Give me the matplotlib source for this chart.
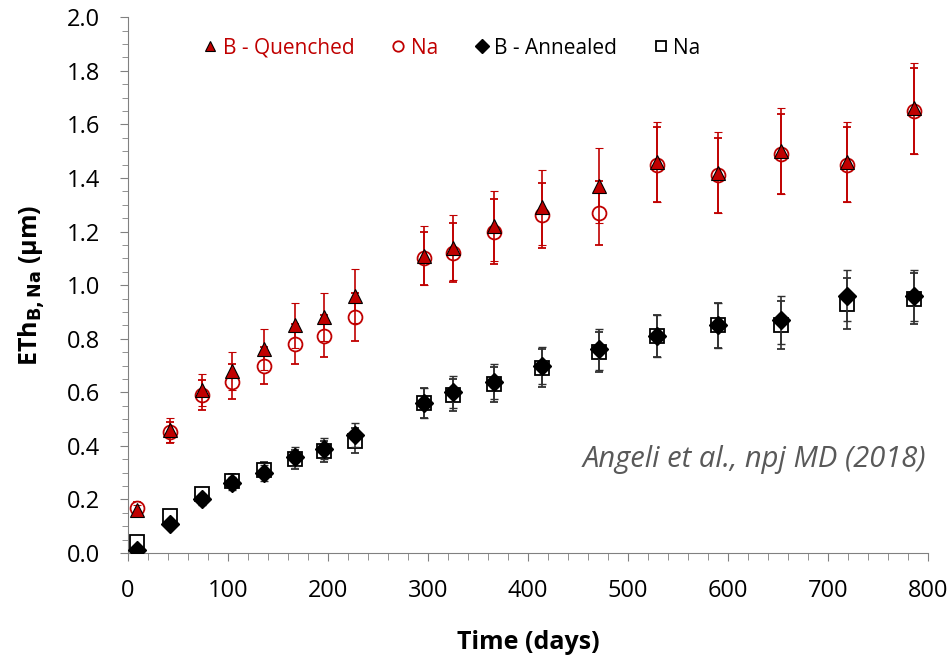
import numpy as np
import matplotlib.pyplot as plt

plt.rcParams['font.family'] = ['Open Sans', 'DejaVu Sans']

days = [9, 42, 74, 104, 136, 167, 196, 227, 296, 325, 366, 414, 471, 529, 590, 653, 719, 786]

# quenched glass
bq = [0.16, 0.46, 0.61, 0.68, 0.76, 0.85, 0.88, 0.96, 1.11, 1.14, 1.22, 1.29, 1.37, 1.46, 1.42, 1.50, 1.46, 1.66]
bq_err = [0.02, 0.045, 0.06, 0.07, 0.075, 0.085, 0.09, 0.10, 0.11, 0.12, 0.13, 0.14, 0.14, 0.15, 0.15, 0.16, 0.15, 0.17]
naq = [0.17, 0.45, 0.59, 0.64, 0.70, 0.78, 0.81, 0.88, 1.10, 1.12, 1.20, 1.26, 1.27, 1.45, 1.41, 1.49, 1.45, 1.65]
naq_err = [0.02, 0.04, 0.055, 0.065, 0.07, 0.075, 0.08, 0.09, 0.10, 0.11, 0.12, 0.12, 0.12, 0.14, 0.14, 0.15, 0.14, 0.16]

# annealed glass
ba = [0.01, 0.11, 0.20, 0.26, 0.30, 0.36, 0.39, 0.44, 0.56, 0.60, 0.64, 0.70, 0.76, 0.81, 0.85, 0.87, 0.96, 0.96]
ba_err = [0.01, 0.015, 0.02, 0.025, 0.03, 0.035, 0.04, 0.045, 0.055, 0.06, 0.065, 0.07, 0.075, 0.08, 0.085, 0.09, 0.095, 0.095]
naa = [0.04, 0.14, 0.22, 0.27, 0.31, 0.35, 0.38, 0.42, 0.56, 0.59, 0.63, 0.69, 0.75, 0.81, 0.85, 0.85, 0.93, 0.95]
naa_err = [0.01, 0.015, 0.02, 0.025, 0.03, 0.035, 0.04, 0.045, 0.055, 0.06, 0.065, 0.07, 0.075, 0.08, 0.085, 0.09, 0.095, 0.095]

red = '#c00000'
fig = plt.figure(figsize=(9.52, 6.6), dpi=100)
ax = fig.add_axes([0.134, 0.162, 0.841, 0.812])

ax.errorbar(days, naq, yerr=naq_err, fmt='o', ms=10, mfc='white', mec=red, mew=1.3,
            ecolor=red, elinewidth=1.2, capsize=3, label='Na', zorder=3)
ax.errorbar(days, bq, yerr=bq_err, fmt='^', ms=10, mfc=red, mec='black', mew=0.8,
            ecolor=red, elinewidth=1.2, capsize=3, label='B - Quenched', zorder=4)
ax.errorbar(days, naa, yerr=naa_err, fmt='s', ms=10, mfc='white', mec='black', mew=1.3,
            ecolor='#303030', elinewidth=1.2, capsize=3, label='Na', zorder=3)
ax.errorbar(days, ba, yerr=ba_err, fmt='D', ms=9, mfc='black', mec='black',
            ecolor='#303030', elinewidth=1.2, capsize=3, label='B - Annealed', zorder=4)

ax.set_xlim(0, 800)
ax.set_ylim(0, 2.0)
ax.set_xticks(np.arange(0, 801, 100))
ax.set_xticks(np.arange(0, 801, 20), minor=True)
ax.set_yticks(np.arange(0, 2.01, 0.2))
ax.set_yticks(np.arange(0, 2.01, 0.05), minor=True)
ax.yaxis.set_major_formatter(plt.FuncFormatter(lambda v, p: f'{v:.1f}'))
ax.tick_params(which='both', direction='out', color='#808080', labelsize=17)
ax.tick_params(which='major', length=6)
ax.tick_params(which='minor', length=4)
ax.tick_params(axis='x', which='minor', length=5)
ax.tick_params(axis='x', pad=13)
ax.tick_params(axis='y', pad=14)
for s in ['top', 'right']:
    ax.spines[s].set_visible(False)
for s in ['left', 'bottom']:
    ax.spines[s].set_color('#808080')

ax.set_xlabel('Time (days)', fontsize=18, fontweight='bold', labelpad=19)
ax.set_ylabel(r'ETh$_{\mathbf{B,Na}}$ (µm)', fontsize=18, fontweight='bold', labelpad=14)

h, l = ax.get_legend_handles_labels()
order = [1, 0, 3, 2]
leg = ax.legend([h[i][0] for i in order], [l[i] for i in order], ncol=4, frameon=False,
                loc='upper left', bbox_to_anchor=(0.067, 0.997), fontsize=15,
                handletextpad=0.1, columnspacing=1.6, handlelength=1.0, markerscale=0.75)
for t, c in zip(leg.get_texts(), [red, red, 'black', 'black']):
    t.set_color(c)

ax.text(0.998, 0.16, 'Angeli et al., npj MD (2018)', transform=ax.transAxes, ha='right',
        fontsize=21, style='italic', color='#595959')

fig.savefig('out.png', dpi=100)
